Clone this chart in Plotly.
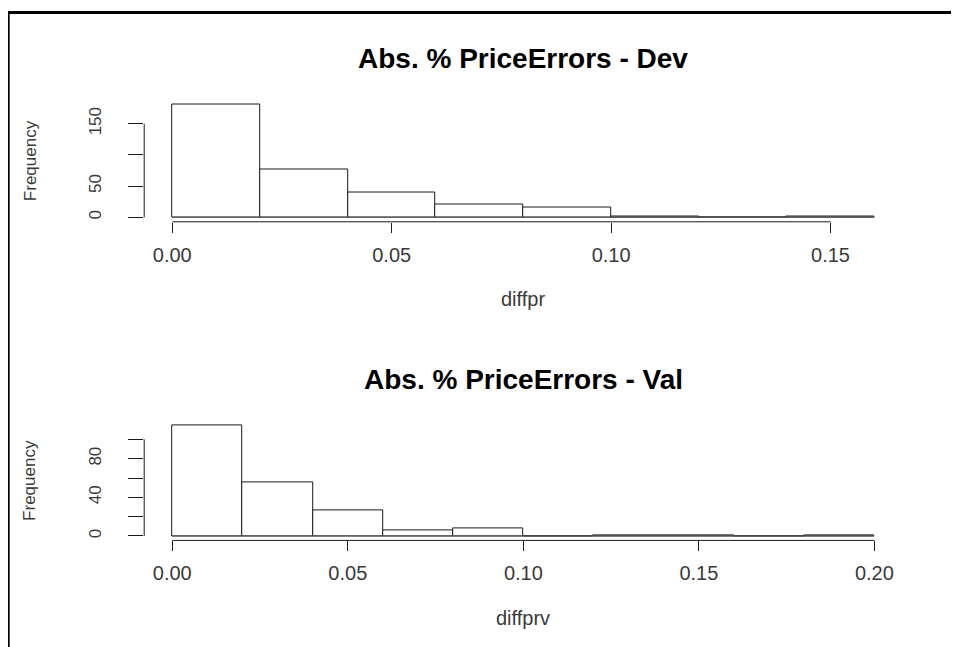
import plotly.graph_objects as go

# ---------------- data ----------------
bin_width = 0.02
dev_bin_starts = [0.00, 0.02, 0.04, 0.06, 0.08, 0.10, 0.12, 0.14]
dev_counts = [180, 76, 40, 21, 15, 1, 0, 1]
val_bin_starts = [0.00, 0.02, 0.04, 0.06, 0.08, 0.10, 0.12, 0.14, 0.16, 0.18]
val_counts = [114, 55, 26, 6, 8, 0, 1, 1, 0, 1]

dev_xticks = [0.00, 0.05, 0.10, 0.15]
dev_xticklabels = ["0.00", "0.05", "0.10", "0.15"]
dev_yticks = [0, 50, 100, 150]
dev_yticklabels = ["0", "50", "", "150"]

val_xticks = [0.00, 0.05, 0.10, 0.15, 0.20]
val_xticklabels = ["0.00", "0.05", "0.10", "0.15", "0.20"]
val_yticks = [0, 20, 40, 60, 80, 100]
val_yticklabels = ["0", "", "40", "", "80", ""]

titles = ["Abs. % PriceErrors - Dev", "Abs. % PriceErrors - Val"]
xlabels = ["diffpr", "diffprv"]
ylabel = "Frequency"

# ---------------- layout helpers ----------------
# The page body has an 8px default margin, so the figure is offset by 8px.
OFF = 8
W, H = 959 - OFF, 647 - OFF
FONT = "Liberation Sans, Arial, Helvetica, sans-serif"
INK = "#1a1a1a"
LABEL = "#3a3a3a"


def px_x(p):
    return (p - OFF) / W


def px_y(p):
    return 1 - (p - OFF) / H


def r_range(lo, hi):
    d = (hi - lo) * 0.04
    return [lo - d, hi + d]


fig = go.Figure()

panels = [
    dict(starts=dev_bin_starts, counts=dev_counts, xt=dev_xticks, xtl=dev_xticklabels,
         yt=dev_yticks, ytl=dev_yticklabels, xa="x", ya="y", top=100.5, bot=221.8,
         title_y=58.5, xlab_y=299),
    dict(starts=val_bin_starts, counts=val_counts, xt=val_xticks, xtl=val_xticklabels,
         yt=val_yticks, ytl=val_yticklabels, xa="x2", ya="y2", top=421.4, bot=540.4,
         title_y=379, xlab_y=618),
]

x_dom = [px_x(144.2), px_x(902.5)]
shapes = []
annotations = []

for i, p in enumerate(panels):
    centers = [s + bin_width / 2 for s in p["starts"]]
    fig.add_trace(go.Bar(
        x=centers, y=p["counts"], width=[bin_width] * len(centers),
        marker=dict(color="white", line=dict(color=INK, width=1)),
        xaxis=p["xa"], yaxis=p["ya"], showlegend=False, hoverinfo="x+y",
    ))
    edges_lo = p["starts"][0]
    edges_hi = p["starts"][-1] + bin_width
    suffix = "" if i == 0 else "2"
    ax_kw = dict(
        domain=x_dom, range=r_range(edges_lo, edges_hi),
        tickvals=p["xt"], ticktext=p["xtl"], ticks="outside", ticklen=10,
        tickwidth=1, tickcolor=INK, showgrid=False, zeroline=False, showline=False,
        tickfont=dict(family=FONT, size=20, color=LABEL), ticklabelstandoff=5,
        anchor="y" + suffix, fixedrange=True,
    )
    ay_kw = dict(
        domain=[px_y(p["bot"]), px_y(p["top"])], range=r_range(0, max(p["counts"])),
        tickvals=p["yt"], ticktext=p["ytl"], ticks="outside", ticklen=15,
        tickwidth=1, tickcolor=INK, showgrid=False, zeroline=False, showline=False,
        tickangle=-90, tickfont=dict(family=FONT, size=17, color=LABEL),
        ticklabelstandoff=20, anchor="x" + suffix, fixedrange=True,
    )
    fig.update_layout(**{"xaxis" + suffix: ax_kw, "yaxis" + suffix: ay_kw})

    # axis lines spanning first to last tick (R style)
    shapes.append(dict(type="line", xref=p["xa"], yref=p["ya"] + " domain",
                       x0=p["xt"][0], x1=p["xt"][-1], y0=0, y1=0,
                       line=dict(color=INK, width=1)))
    shapes.append(dict(type="line", xref=p["xa"] + " domain", yref=p["ya"],
                       x0=0, x1=0, y0=p["yt"][0], y1=p["yt"][-1],
                       line=dict(color=INK, width=1)))
    # histogram baseline (zero-height bins show as a line)
    shapes.append(dict(type="line", xref=p["xa"], yref=p["ya"],
                       x0=edges_lo, x1=edges_hi, y0=0, y1=0,
                       line=dict(color="#555555", width=1)))

    annotations.append(dict(text="<b>" + titles[i] + "</b>", xref="paper", yref="paper",
                            x=sum(x_dom) / 2, y=px_y(p["title_y"]), showarrow=False,
                            xanchor="center", yanchor="middle",
                            font=dict(family=FONT, size=28, color="black")))
    annotations.append(dict(text=xlabels[i], xref="paper", yref="paper",
                            x=sum(x_dom) / 2, y=px_y(p["xlab_y"]), showarrow=False,
                            xanchor="center", yanchor="middle",
                            font=dict(family=FONT, size=20, color=LABEL)))
    annotations.append(dict(text=ylabel, xref="paper", yref="paper",
                            x=px_x(30), y=px_y((p["top"] + p["bot"]) / 2), showarrow=False,
                            xanchor="center", yanchor="middle", textangle=-90,
                            font=dict(family=FONT, size=17, color=LABEL)))

# outer frame (top and left edges visible, rest cropped)
shapes.append(dict(type="line", xref="paper", yref="paper",
                   x0=px_x(6.7), x1=1.05, y0=px_y(12.5), y1=px_y(12.5),
                   line=dict(color="black", width=3)))
shapes.append(dict(type="line", xref="paper", yref="paper",
                   x0=px_x(8.2), x1=px_x(8.2), y0=-0.05, y1=px_y(11),
                   line=dict(color="black", width=3)))

fig.update_layout(
    width=W, height=H, autosize=False,
    margin=dict(l=0, r=0, t=0, b=0),
    paper_bgcolor="white", plot_bgcolor="white",
    barmode="overlay", bargap=0,
    shapes=shapes, annotations=annotations,
    font=dict(family=FONT, color=INK),
)

fig.write_html("out.html")
